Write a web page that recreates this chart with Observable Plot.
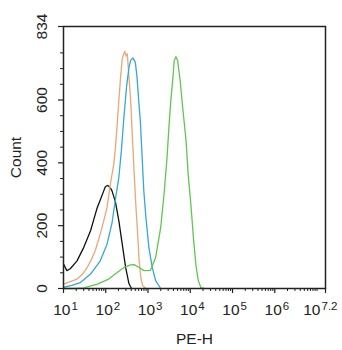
<!DOCTYPE html>
<html><head><meta charset="utf-8">
<script src="https://cdn.jsdelivr.net/npm/d3@7"></script>
<script src="https://cdn.jsdelivr.net/npm/@observablehq/plot@0.6"></script>
<style>
body{margin:0;background:#fff;}
#chart{width:342px;height:350px;position:relative;}
</style>
</head><body><div id="chart"></div>
<script>
// Series values (x as log10 of PE-H, y as count)
const seriesNames = ["Blank control", "Isotype", "Sample 1", "Sample 2"];
const seriesColors = ["#111111", "#eba774", "#35a8d5", "#5cc94c"];

const blackExp = [1.00,1.08,1.16,1.32,1.48,1.64,1.76,1.80,1.87,1.95,1.99,2.04,2.07,2.12,2.15,2.23,2.31,2.39,2.47,2.55,2.61];
const blackCount = [78,57,63,88,131,184,240,258,282,310,324,328,326,318,310,275,215,141,67,15,0];

const orangeExp = [1.00,1.16,1.32,1.45,1.56,1.66,1.75,1.83,1.91,1.97,2.03,2.11,2.19,2.23,2.27,2.30,2.35,2.39,2.42,2.45,2.48,2.51,2.55,2.59,2.63,2.67,2.71,2.75,2.79,2.83,2.87,2.92,2.96];
const orangeCount = [14,22,30,45,67,92,120,155,194,225,258,333,396,450,520,580,672,731,745,755,740,747,672,598,481,375,269,184,88,35,10,3,0];

const cyanExp = [1.00,1.20,1.40,1.64,1.87,2.03,2.15,2.23,2.31,2.37,2.43,2.49,2.55,2.59,2.64,2.70,2.74,2.78,2.82,2.86,2.90,2.95,3.02,3.10,3.18,3.30];
const cyanCount = [4,10,19,46,88,141,210,285,354,439,545,640,704,726,734,720,672,598,530,420,311,226,131,67,25,0];

const greenExp = [1.00,1.30,1.48,1.80,2.07,2.27,2.43,2.59,2.67,2.79,2.90,3.06,3.18,3.30,3.38,3.45,3.50,3.54,3.59,3.62,3.66,3.70,3.76,3.82,3.90,3.95,4.02,4.08,4.14,4.19,4.25,4.33];
const greenCount = [0,0,2,14,30,51,67,75,76,67,57,58,99,194,301,417,524,598,672,726,738,726,662,577,471,364,258,152,67,25,3,0];

// Axis tick labels
const xExponents = [1, 2, 3, 4, 5, 6, 7.2];
const xExponentLabels = ["1", "2", "3", "4", "5", "6", "7.2"];
const yTickValues = [0, 200, 400, 600, 834];
const yTickLabels = ["0", "200", "400", "600", "834"];
const xLabel = "PE-H";
const yLabel = "Count";

// Build table
const expArrays = [blackExp, orangeExp, cyanExp, greenExp];
const countArrays = [blackCount, orangeCount, cyanCount, greenCount];
const rows = [];
seriesNames.forEach((name, s) => {
  expArrays[s].forEach((e, i) => rows.push({series: name, x: Math.pow(10, e), y: countArrays[s][i]}));
});

const xMax = Math.pow(10, 7.2);
const xMajor = xExponents.map(e => Math.pow(10, e));
const xMinor = [];
for (let d = 1; d <= 7; d++) for (let k = 1; k <= 9; k++) {
  const v = k * Math.pow(10, d);
  if (v <= xMax && !(k === 1 && d <= 6)) xMinor.push(v);
}
const yMinor = d3.range(50, 834, 50).filter(v => v % 200 !== 0);

const labelRows = xExponents.map((e, i) => ({x: Math.pow(10, e), exp: xExponentLabels[i], last: i === xExponents.length - 1}));
const yLabelRows = yTickValues.map((v, i) => ({y: v, t: yTickLabels[i]}));

const font = "'Liberation Sans', Arial, sans-serif";
const ink = "#222";

const chart = Plot.plot({
  width: 342,
  height: 350,
  marginLeft: 63,
  marginRight: 17,
  marginTop: 26,
  marginBottom: 62,
  style: {fontFamily: font, background: "#fff", color: ink, overflow: "visible"},
  x: {type: "log", domain: [10, xMax], axis: null},
  y: {domain: [0, 834], axis: null},
  color: {type: "ordinal", domain: seriesNames, range: seriesColors},
  marks: [
    Plot.line(rows, {x: "x", y: "y", z: "series", stroke: "series", strokeWidth: 1.3}),
    Plot.frame({stroke: ink, strokeWidth: 1.5}),
    // y ticks
    Plot.axisY({ticks: yTickValues, tickSize: 5, tickFormat: () => "", label: null, stroke: ink, strokeWidth: 1.2}),
    Plot.axisY({ticks: yMinor, tickSize: 3, tickFormat: () => "", label: null, stroke: ink, strokeWidth: 1}),
    Plot.text(yLabelRows, {y: "y", text: "t", frameAnchor: "left", rotate: -90, dx: -21, textAnchor: "middle", fontSize: 15.5, fill: ink}),
    // x ticks
    Plot.axisX({ticks: xMajor, tickSize: 5, tickFormat: () => "", label: null, stroke: ink, strokeWidth: 1.2}),
    Plot.axisX({ticks: xMinor, tickSize: 3, tickFormat: () => "", label: null, stroke: ink, strokeWidth: 1}),
    Plot.text(labelRows.filter(d => !d.last), {x: "x", text: () => "10", frameAnchor: "bottom", lineAnchor: "bottom", dy: 26, dx: 7, textAnchor: "end", fontSize: 15.5, fill: ink}),
    Plot.text(labelRows.filter(d => !d.last), {x: "x", text: "exp", frameAnchor: "bottom", lineAnchor: "bottom", dy: 21, dx: 8, textAnchor: "start", fontSize: 11.5, fill: ink}),
    Plot.text(labelRows.filter(d => d.last), {x: "x", text: () => "10", frameAnchor: "bottom", lineAnchor: "bottom", dy: 26, dx: -5, textAnchor: "end", fontSize: 15.5, fill: ink}),
    Plot.text(labelRows.filter(d => d.last), {x: "x", text: "exp", frameAnchor: "bottom", lineAnchor: "bottom", dy: 21, dx: -4, textAnchor: "start", fontSize: 11.5, fill: ink}),
    // axis titles
    Plot.text([xLabel], {text: d => d, frameAnchor: "bottom", lineAnchor: "bottom", dy: 55, fontSize: 15.5, fill: ink}),
    Plot.text([yLabel], {text: d => d, frameAnchor: "left", rotate: -90, dx: -47, textAnchor: "middle", fontSize: 15.5, fill: ink})
  ]
});
document.getElementById("chart").appendChild(chart);
</script>
</body></html>
